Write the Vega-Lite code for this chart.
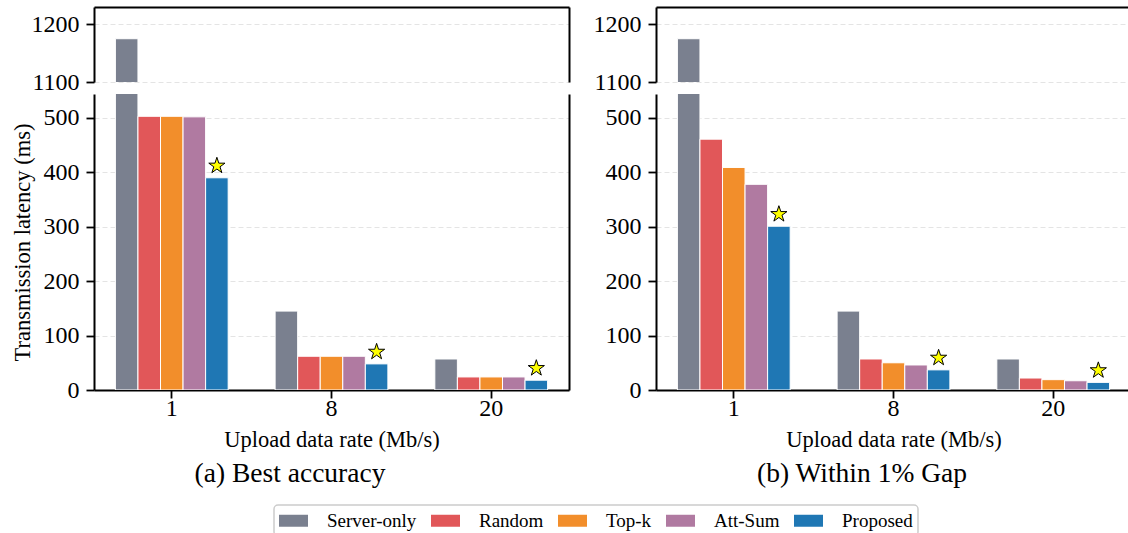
{
  "$schema": "https://vega.github.io/schema/vega-lite/v6.json",
  "padding": {"left": 10, "top": 7, "right": 0, "bottom": 0},
  "datasets": {
    "a": [
      {"rate": "1", "method": "Server-only", "value": 1175},
      {"rate": "1", "method": "Random", "value": 503},
      {"rate": "1", "method": "Top-k", "value": 503},
      {"rate": "1", "method": "Att-Sum", "value": 502},
      {"rate": "1", "method": "Proposed", "value": 390},
      {"rate": "8", "method": "Server-only", "value": 145},
      {"rate": "8", "method": "Random", "value": 62},
      {"rate": "8", "method": "Top-k", "value": 62},
      {"rate": "8", "method": "Att-Sum", "value": 62},
      {"rate": "8", "method": "Proposed", "value": 48},
      {"rate": "20", "method": "Server-only", "value": 57},
      {"rate": "20", "method": "Random", "value": 24},
      {"rate": "20", "method": "Top-k", "value": 24},
      {"rate": "20", "method": "Att-Sum", "value": 24},
      {"rate": "20", "method": "Proposed", "value": 18}
    ],
    "b": [
      {"rate": "1", "method": "Server-only", "value": 1175},
      {"rate": "1", "method": "Random", "value": 461},
      {"rate": "1", "method": "Top-k", "value": 409},
      {"rate": "1", "method": "Att-Sum", "value": 378},
      {"rate": "1", "method": "Proposed", "value": 301},
      {"rate": "8", "method": "Server-only", "value": 145},
      {"rate": "8", "method": "Random", "value": 57},
      {"rate": "8", "method": "Top-k", "value": 50},
      {"rate": "8", "method": "Att-Sum", "value": 46},
      {"rate": "8", "method": "Proposed", "value": 37},
      {"rate": "20", "method": "Server-only", "value": 57},
      {"rate": "20", "method": "Random", "value": 22},
      {"rate": "20", "method": "Top-k", "value": 19},
      {"rate": "20", "method": "Att-Sum", "value": 17},
      {"rate": "20", "method": "Proposed", "value": 14}
    ]
  },
  "hconcat": [
    {
      "data": {"name": "a"},
      "title": {"text": "(a) Best accuracy"},
      "spacing": 0,
      "vconcat": [
        {
          "width": 475, "height": 75,
          "resolve": {"axis": {"y": "independent"}},
          "layer": [
            {
              "mark": {"type": "bar", "clip": true, "stroke": "white", "strokeWidth": 1},
              "encoding": {
                "x": {"field": "rate", "type": "nominal", "sort": ["1", "8", "20"], "scale": {"paddingInner": 0.294, "paddingOuter": 0.134}, "axis": {"orient": "top", "labels": false, "ticks": false, "title": null}},
                "xOffset": {"field": "method", "type": "nominal", "sort": ["Server-only", "Random", "Top-k", "Att-Sum", "Proposed"], "scale": {"paddingInner": 0, "paddingOuter": 0}},
                "y": {"field": "value", "type": "quantitative", "scale": {"domain": [1100, 1230], "nice": false, "zero": false}, "axis": {"values": [1100, 1200], "format": "d", "title": null, "grid": true}},
                "color": {"field": "method", "type": "nominal", "scale": {"domain": ["Server-only", "Random", "Top-k", "Att-Sum", "Proposed"], "range": ["#7a808f", "#e15759", "#f28e2b", "#b07aa1", "#1f77b4"]}, "legend": {"orient": "none", "legendX": 180, "legendY": 498, "direction": "horizontal", "title": null}}
              }
            },
            {
              "transform": [{"filter": "datum.method == 'Proposed'"}],
              "mark": {"type": "point", "clip": true, "shape": "M0,-1L0.2245,-0.309L0.951,-0.309L0.363,0.118L0.588,0.809L0,0.382L-0.588,0.809L-0.363,0.118L-0.951,-0.309L-0.2245,-0.309Z", "size": 290, "filled": true, "fill": "#ffff00", "stroke": "black", "strokeWidth": 1, "opacity": 1, "yOffset": -12},
              "encoding": {
                "x": {"field": "rate", "type": "nominal", "sort": ["1", "8", "20"]},
                "xOffset": {"field": "method", "type": "nominal", "sort": ["Server-only", "Random", "Top-k", "Att-Sum", "Proposed"]},
                "y": {"field": "value", "type": "quantitative", "axis": {"orient": "right", "labels": false, "ticks": false, "grid": false, "title": null}}
              }
            }
          ]
        },
        {
          "width": 475, "height": 296,
          "resolve": {"axis": {"y": "independent"}},
          "layer": [
            {
              "mark": {"type": "bar", "clip": true, "stroke": "white", "strokeWidth": 1},
              "encoding": {
                "x": {"field": "rate", "type": "nominal", "sort": ["1", "8", "20"], "scale": {"paddingInner": 0.294, "paddingOuter": 0.134}, "axis": {"title": "Upload data rate (Mb/s)"}},
                "xOffset": {"field": "method", "type": "nominal", "sort": ["Server-only", "Random", "Top-k", "Att-Sum", "Proposed"], "scale": {"paddingInner": 0, "paddingOuter": 0}},
                "y": {"field": "value", "type": "quantitative", "scale": {"domain": [0, 544], "nice": false}, "axis": {"values": [0, 100, 200, 300, 400, 500], "format": "d", "title": "Transmission latency (ms)", "grid": true}},
                "color": {"field": "method", "type": "nominal", "scale": {"domain": ["Server-only", "Random", "Top-k", "Att-Sum", "Proposed"], "range": ["#7a808f", "#e15759", "#f28e2b", "#b07aa1", "#1f77b4"]}, "legend": {"orient": "none", "legendX": 180, "legendY": 498, "direction": "horizontal", "title": null}}
              }
            },
            {
              "transform": [{"filter": "datum.method == 'Proposed'"}],
              "mark": {"type": "point", "clip": true, "shape": "M0,-1L0.2245,-0.309L0.951,-0.309L0.363,0.118L0.588,0.809L0,0.382L-0.588,0.809L-0.363,0.118L-0.951,-0.309L-0.2245,-0.309Z", "size": 290, "filled": true, "fill": "#ffff00", "stroke": "black", "strokeWidth": 1, "opacity": 1, "yOffset": -12},
              "encoding": {
                "x": {"field": "rate", "type": "nominal", "sort": ["1", "8", "20"]},
                "xOffset": {"field": "method", "type": "nominal", "sort": ["Server-only", "Random", "Top-k", "Att-Sum", "Proposed"]},
                "y": {"field": "value", "type": "quantitative", "axis": {"orient": "right", "labels": false, "ticks": false, "grid": false, "title": null}}
              }
            }
          ]
        }
      ]
    },
    {
      "data": {"name": "b"},
      "title": {"text": "(b) Within 1% Gap"},
      "spacing": 0,
      "vconcat": [
        {
          "width": 475, "height": 75,
          "resolve": {"axis": {"y": "independent"}},
          "layer": [
            {
              "mark": {"type": "bar", "clip": true, "stroke": "white", "strokeWidth": 1},
              "encoding": {
                "x": {"field": "rate", "type": "nominal", "sort": ["1", "8", "20"], "scale": {"paddingInner": 0.294, "paddingOuter": 0.134}, "axis": {"orient": "top", "labels": false, "ticks": false, "title": null}},
                "xOffset": {"field": "method", "type": "nominal", "sort": ["Server-only", "Random", "Top-k", "Att-Sum", "Proposed"], "scale": {"paddingInner": 0, "paddingOuter": 0}},
                "y": {"field": "value", "type": "quantitative", "scale": {"domain": [1100, 1230], "nice": false, "zero": false}, "axis": {"values": [1100, 1200], "format": "d", "title": null, "grid": true}},
                "color": {"field": "method", "type": "nominal", "scale": {"domain": ["Server-only", "Random", "Top-k", "Att-Sum", "Proposed"], "range": ["#7a808f", "#e15759", "#f28e2b", "#b07aa1", "#1f77b4"]}, "legend": {"orient": "none", "legendX": 180, "legendY": 498, "direction": "horizontal", "title": null}}
              }
            },
            {
              "transform": [{"filter": "datum.method == 'Proposed'"}],
              "mark": {"type": "point", "clip": true, "shape": "M0,-1L0.2245,-0.309L0.951,-0.309L0.363,0.118L0.588,0.809L0,0.382L-0.588,0.809L-0.363,0.118L-0.951,-0.309L-0.2245,-0.309Z", "size": 290, "filled": true, "fill": "#ffff00", "stroke": "black", "strokeWidth": 1, "opacity": 1, "yOffset": -12},
              "encoding": {
                "x": {"field": "rate", "type": "nominal", "sort": ["1", "8", "20"]},
                "xOffset": {"field": "method", "type": "nominal", "sort": ["Server-only", "Random", "Top-k", "Att-Sum", "Proposed"]},
                "y": {"field": "value", "type": "quantitative", "axis": {"orient": "right", "labels": false, "ticks": false, "grid": false, "title": null}}
              }
            }
          ]
        },
        {
          "width": 475, "height": 296,
          "resolve": {"axis": {"y": "independent"}},
          "layer": [
            {
              "mark": {"type": "bar", "clip": true, "stroke": "white", "strokeWidth": 1},
              "encoding": {
                "x": {"field": "rate", "type": "nominal", "sort": ["1", "8", "20"], "scale": {"paddingInner": 0.294, "paddingOuter": 0.134}, "axis": {"title": "Upload data rate (Mb/s)"}},
                "xOffset": {"field": "method", "type": "nominal", "sort": ["Server-only", "Random", "Top-k", "Att-Sum", "Proposed"], "scale": {"paddingInner": 0, "paddingOuter": 0}},
                "y": {"field": "value", "type": "quantitative", "scale": {"domain": [0, 544], "nice": false}, "axis": {"values": [0, 100, 200, 300, 400, 500], "format": "d", "title": null, "grid": true}},
                "color": {"field": "method", "type": "nominal", "scale": {"domain": ["Server-only", "Random", "Top-k", "Att-Sum", "Proposed"], "range": ["#7a808f", "#e15759", "#f28e2b", "#b07aa1", "#1f77b4"]}, "legend": {"orient": "none", "legendX": 180, "legendY": 498, "direction": "horizontal", "title": null}}
              }
            },
            {
              "transform": [{"filter": "datum.method == 'Proposed'"}],
              "mark": {"type": "point", "clip": true, "shape": "M0,-1L0.2245,-0.309L0.951,-0.309L0.363,0.118L0.588,0.809L0,0.382L-0.588,0.809L-0.363,0.118L-0.951,-0.309L-0.2245,-0.309Z", "size": 290, "filled": true, "fill": "#ffff00", "stroke": "black", "strokeWidth": 1, "opacity": 1, "yOffset": -12},
              "encoding": {
                "x": {"field": "rate", "type": "nominal", "sort": ["1", "8", "20"]},
                "xOffset": {"field": "method", "type": "nominal", "sort": ["Server-only", "Random", "Top-k", "Att-Sum", "Proposed"]},
                "y": {"field": "value", "type": "quantitative", "axis": {"orient": "right", "labels": false, "ticks": false, "grid": false, "title": null}}
              }
            }
          ]
        }
      ]
    }
  ],
  "spacing": 24,
  "config": {
    "font": "Liberation Serif",
    "view": {"stroke": null},
    "axis": {
      "labelFont": "Liberation Serif", "labelFontSize": 24, "labelColor": "black",
      "titleFont": "Liberation Serif", "titleFontSize": 22.5, "titleFontWeight": "normal", "titleColor": "black",
      "domainColor": "black", "domainWidth": 2,
      "tickColor": "black", "tickWidth": 1.8, "tickSize": 8, "labelPadding": 7,
      "gridColor": "#e4e4e4", "gridDash": [5, 3], "gridWidth": 1
    },
    "axisX": {"labelAngle": 0, "grid": false, "titlePadding": 8, "labelPadding": -2},
    "axisY": {"titlePadding": 9},
    "title": {"orient": "bottom", "anchor": "middle", "font": "Liberation Serif", "fontSize": 27.5, "fontWeight": "normal", "color": "black", "offset": 9},
    "legend": {
      "labelFont": "Liberation Serif", "labelFontSize": 19, "labelColor": "black",
      "symbolType": "M-1.381,-0.571H1.381V0.571H-1.381Z", "symbolSize": 441, "symbolOffset": 4, "symbolStrokeWidth": 0, "symbolOpacity": 1,
      "labelOffset": 23, "columnPadding": 13, "padding": 5,
      "strokeColor": "#cccccc", "strokeWidth": 1.5, "cornerRadius": 4, "fillColor": "white"
    }
  }
}
